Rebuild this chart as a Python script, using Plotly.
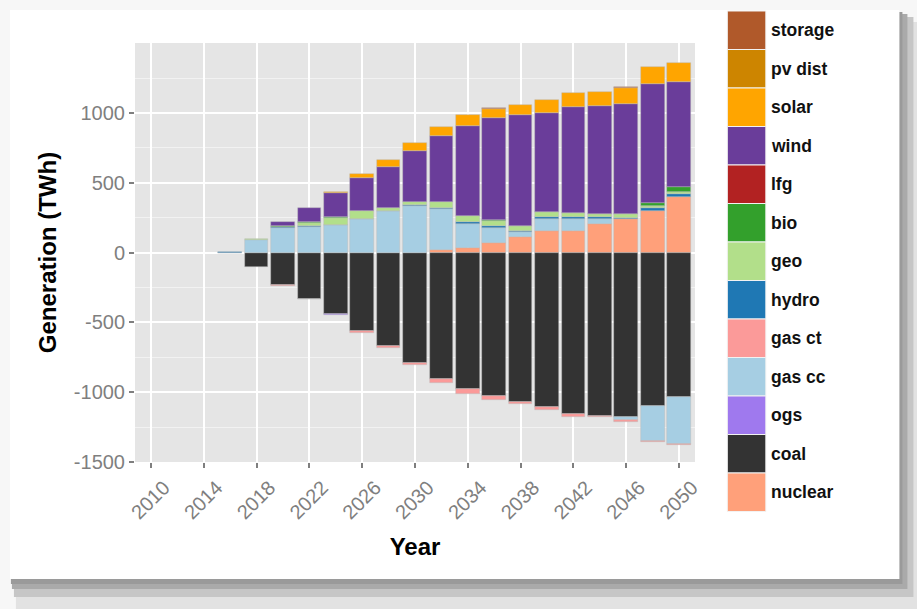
import plotly.graph_objects as go

# ---------------- data ----------------
years = [2016, 2018, 2020, 2022, 2024, 2026, 2028, 2030, 2032,
         2034, 2036, 2038, 2040, 2042, 2044, 2046, 2048, 2050]

nuclear = [0, 0, 0, 0, 0, 0, 0, 0, 17, 36, 72, 108, 153, 153, 208, 237, 301, 399]
coal = [-6, -106, -230, -330, -442, -564, -672, -791, -904, -980, -1028, -1069,
        -1109, -1157, -1169, -1176, -1097, -1033]
ogs = [0, 0, 0, -5, -5, 0, 0, 0, 0, 0, 0, 0, 0, 0, 0, 0, 0, 0]
gas_cc = [0, 88, 179, 184, 196, 237, 296, 332, 294, 172, 105, 36, 91, 91, 31, -22, -249, -337]
gas_ct = [0, 0, -7, 0, 0, -10, -10, -12, -29, -33, -29, -14, -17, -19, -12, -12, -12, -10]
hydro = [6, 0, 3, 5, 5, 5, 5, 12, 10, 12, 10, 10, 10, 10, 17, 14, 19, 24]
geo = [0, 7, 0, 26, 50, 55, 21, 17, 38, 45, 38, 36, 36, 26, 17, 24, 14, 14]
bio = [0, 0, 7, 3, 5, 0, 0, 0, 0, 0, 5, 3, 3, 3, 3, 3, 22, 31]
lfg = [0] * 18
wind = [0, 0, 33, 103, 170, 237, 289, 363, 478, 643, 732, 791, 710, 760, 772, 789, 851, 751]
solar = [0, 0, 0, 0, 10, 31, 55, 60, 65, 74, 65, 72, 88, 98, 103, 112, 124, 141]
pv_dist = [0] * 18
storage = [0, 0, 0, 0, 0, 0, 0, 0, 0, 0, 5, 0, 0, 0, 0, 7, 0, 0]

# stacking order (from zero outward)
series_names = ["nuclear", "coal", "ogs", "gas cc", "gas ct", "hydro", "geo",
                "bio", "lfg", "wind", "solar", "pv dist", "storage"]
series_values = [nuclear, coal, ogs, gas_cc, gas_ct, hydro, geo,
                 bio, lfg, wind, solar, pv_dist, storage]
series_colors = ["#FFA07A", "#333333", "#9F79EE", "#A6CEE3", "#FB9A99", "#1F78B4",
                 "#B2DF8A", "#33A02C", "#B22222", "#6A3D9A", "#FFA500", "#CD8500",
                 "#B0592A"]

y_ticks = [-1500, -1000, -500, 0, 500, 1000]
x_ticks = list(range(2010, 2051, 4))

# ---------------- layout geometry (pixels) ----------------
W, H = 917, 609
PL, PR, PT, PB = 135, 694.7, 43, 462


def px(xp):
    return (xp - PL) / (PR - PL)


def py(yp):
    return (PB - yp) / (PB - PT)


fig = go.Figure()
for name, vals, col in zip(series_names, series_values, series_colors):
    fig.add_trace(go.Bar(
        x=years,
        y=[v if v != 0 else None for v in vals],
        name=name,
        width=1.8,
        marker=dict(color=col, line=dict(color="rgba(185,185,185,0.75)", width=0.6)),
        showlegend=False,
    ))

shapes = []
# drop shadow + white card
for (x0, y0, x1, y1, c) in [(16, 22, 920, 612, "#e2e2e2"),
                            (14, 17, 913, 597, "#c6c6c6"),
                            (12, 14, 907, 589, "#aaaaaa"),
                            (11, 12, 902, 584, "#9a9a9a"),
                            (10, 10, 899, 579, "#ffffff")]:
    shapes.append(dict(type="rect", xref="paper", yref="paper",
                       x0=px(x0), x1=px(x1), y0=py(y1), y1=py(y0),
                       fillcolor=c, line=dict(width=0), layer="below"))
# panel background
shapes.append(dict(type="rect", xref="paper", yref="paper", x0=0, x1=1, y0=0, y1=1,
                   fillcolor="#E5E5E5", line=dict(width=0), layer="below"))

# legend (keys drawn as squares, top = storage)
annotations = []
key_top, key_h = 11, 38.5
for i, (name, col) in enumerate(zip(series_names[::-1], series_colors[::-1])):
    y0 = key_top + i * key_h
    shapes.append(dict(type="rect", xref="paper", yref="paper",
                       x0=px(727), x1=px(765.5), y0=py(y0 + key_h), y1=py(y0),
                       fillcolor=col, line=dict(color="#f2f2f2", width=1), layer="above"))
    annotations.append(dict(xref="paper", yref="paper", x=px(769), y=py(y0 + key_h / 2),
                            text="<b>%s</b>" % name, showarrow=False,
                            xanchor="left", yanchor="middle",
                            font=dict(family="Liberation Sans, Arial", size=17.5, color="#111111")))

fig.update_layout(
    width=W, height=H,
    margin=dict(l=PL, r=W - PR, t=PT, b=H - PB, pad=0),
    barmode="relative",
    bargap=0,
    paper_bgcolor="#f7f7f7",
    plot_bgcolor="#E5E5E5",
    font=dict(family="Liberation Sans, Arial", color="#7F7F7F"),
    shapes=shapes,
    annotations=annotations,
    xaxis=dict(
        range=[2008.79, 2051.21],
        tickvals=x_ticks,
        ticktext=[str(t) for t in x_ticks],
        tickangle=-45,
        ticklabelshift=13,
        tickfont=dict(size=20, color="#7F7F7F"),
        ticks="outside", ticklen=5, tickwidth=1.5, tickcolor="#7F7F7F",
        showgrid=True, gridcolor="#ffffff", gridwidth=1.6,
        zeroline=False, showline=False,
        title=dict(text="<b>Year</b>", standoff=15,
                   font=dict(size=24, color="#000000", family="Liberation Sans, Arial")),
    ),
    yaxis=dict(
        range=[-1500, 1501],
        tickvals=y_ticks,
        ticktext=[str(t) for t in y_ticks],
        tickfont=dict(size=20, color="#7F7F7F"),
        ticks="outside", ticklen=5, tickwidth=1.5, tickcolor="#7F7F7F",
        showgrid=True, gridcolor="#ffffff", gridwidth=1.6,
        minor=dict(dtick=250, tick0=0, showgrid=True, gridcolor="#F2F2F2", gridwidth=0.8),
        zeroline=False, showline=False,
        title=dict(text="<b>Generation (TWh)</b>", standoff=10,
                   font=dict(size=24, color="#000000", family="Liberation Sans, Arial")),
    ),
)

fig.write_html("out.html",
               config={"displayModeBar": False},
               post_script="document.body.style.margin='0';document.body.style.overflow='hidden';")
